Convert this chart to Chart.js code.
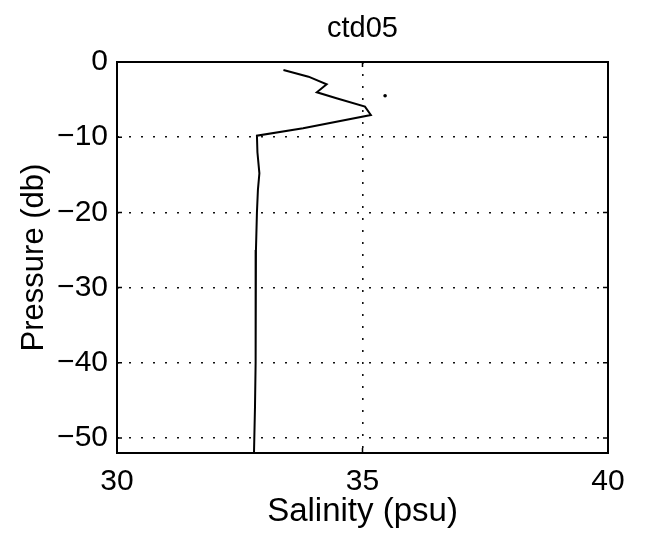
<!DOCTYPE html>
<html>
<head>
<meta charset="utf-8">
<script src="https://cdn.jsdelivr.net/npm/chart.js@4.4.1/dist/chart.umd.min.js"></script>
<style>
  html, body { margin: 0; padding: 0; background: #fff; }
  canvas { display: block; }
</style>
</head>
<body>
<canvas id="c" width="645" height="549"></canvas>
<script>
// ---- data ----
const chartTitle = "ctd05";
const xTitle = "Salinity (psu)";
const yTitle = "Pressure (db)";
const salinity = [33.39, 33.90, 34.27, 34.07, 34.47, 35.05, 35.17, 33.79, 32.85, 32.86, 32.90, 32.87, 32.85, 32.83, 32.82, 32.83, 32.82, 32.81, 32.79];
const pressure = [-1.06, -1.95, -2.97, -4.03, -4.83, -5.94, -7.05, -8.82, -9.8, -12, -14.8, -17, -20, -25, -30, -33.4, -40, -46, -52];
const strayX = [35.46];
const strayY = [-4.48];
const xTicks = [30, 35, 40];
const yTicks = [0, -10, -20, -30, -40, -50];
const xRange = [30, 40];
const yRange = [-52, 0];

const FONT = "'Liberation Sans', Arial, Helvetica, sans-serif";
const fmt = v => (v < 0 ? '\u2212' + Math.abs(v) : String(v));

const boxPlugin = {
  id: 'box',
  afterDatasetsDraw(chart) {
    const {ctx, chartArea: a, scales: {x, y}} = chart;
    ctx.save();
    ctx.strokeStyle = '#000';
    ctx.lineWidth = 2;
    ctx.strokeRect(a.left, a.top, a.right - a.left, a.bottom - a.top);
    ctx.lineWidth = 1.5;
    const L = 5;
    ctx.beginPath();
    xTicks.forEach(v => {
      const px = x.getPixelForValue(v);
      ctx.moveTo(px, a.bottom); ctx.lineTo(px, a.bottom - L);
      ctx.moveTo(px, a.top); ctx.lineTo(px, a.top + L);
    });
    yTicks.forEach(v => {
      const py = y.getPixelForValue(v);
      ctx.moveTo(a.left, py); ctx.lineTo(a.left + L, py);
      ctx.moveTo(a.right, py); ctx.lineTo(a.right - L, py);
    });
    ctx.stroke();
    ctx.restore();
  }
};

new Chart(document.getElementById('c'), {
  type: 'scatter',
  data: {
    datasets: [
      {
        data: salinity.map((s, i) => ({x: s, y: pressure[i]})),
        showLine: true,
        borderColor: '#000',
        borderWidth: 2,
        pointRadius: 0,
        tension: 0
      },
      {
        data: strayX.map((s, i) => ({x: s, y: strayY[i]})),
        showLine: false,
        backgroundColor: '#000',
        borderColor: '#000',
        pointRadius: 1.8,
        borderWidth: 0
      }
    ]
  },
  options: {
    responsive: false,
    animation: false,
    devicePixelRatio: 1,
    layout: { padding: { left: 0, right: 37, top: 0, bottom: 0 } },
    plugins: {
      legend: { display: false },
      tooltip: { enabled: false },
      title: { display: false }
    },
    scales: {
      x: {
        type: 'linear',
        min: xRange[0], max: xRange[1],
        afterBuildTicks: s => { s.ticks = xTicks.map(v => ({value: v})); },
        afterFit: s => { s.height = 96; },
        border: { display: false, dash: [2, 10] },
        grid: {
          drawTicks: false,
          color: '#111',
          lineWidth: 1.6
        },
        ticks: {
          color: '#000',
          padding: 11,
          maxRotation: 0,
          font: { family: FONT, size: 30 },
          callback: v => fmt(v)
        },
        title: {
          display: true,
          text: xTitle,
          color: '#000',
          font: { family: FONT, size: 33, lineHeight: 1.2 },
          padding: { top: 0, bottom: 17 }
        }
      },
      xTop: {
        type: 'linear',
        position: 'top',
        min: xRange[0], max: xRange[1],
        afterFit: s => { s.height = 62; },
        border: { display: false },
        grid: { display: false, drawTicks: false },
        ticks: { display: false },
        title: {
          display: true,
          text: chartTitle,
          color: '#000',
          font: { family: FONT, size: 29, lineHeight: 1.2 },
          padding: { top: 12, bottom: 0 }
        }
      },
      y: {
        type: 'linear',
        min: yRange[0], max: yRange[1],
        afterBuildTicks: s => { s.ticks = yTicks.map(v => ({value: v})); },
        afterFit: s => { s.width = 117; },
        border: { display: false, dash: [2, 10] },
        grid: {
          drawTicks: false,
          color: '#111',
          lineWidth: 1.6
        },
        ticks: {
          color: '#000',
          padding: 9,
          font: { family: FONT, size: 30 },
          callback: v => fmt(v)
        },
        title: {
          display: true,
          text: yTitle,
          color: '#000',
          font: { family: FONT, size: 31, lineHeight: 1.2 },
          padding: { top: 16, bottom: 0 }
        }
      }
    }
  },
  plugins: [boxPlugin]
});
</script>
</body>
</html>
